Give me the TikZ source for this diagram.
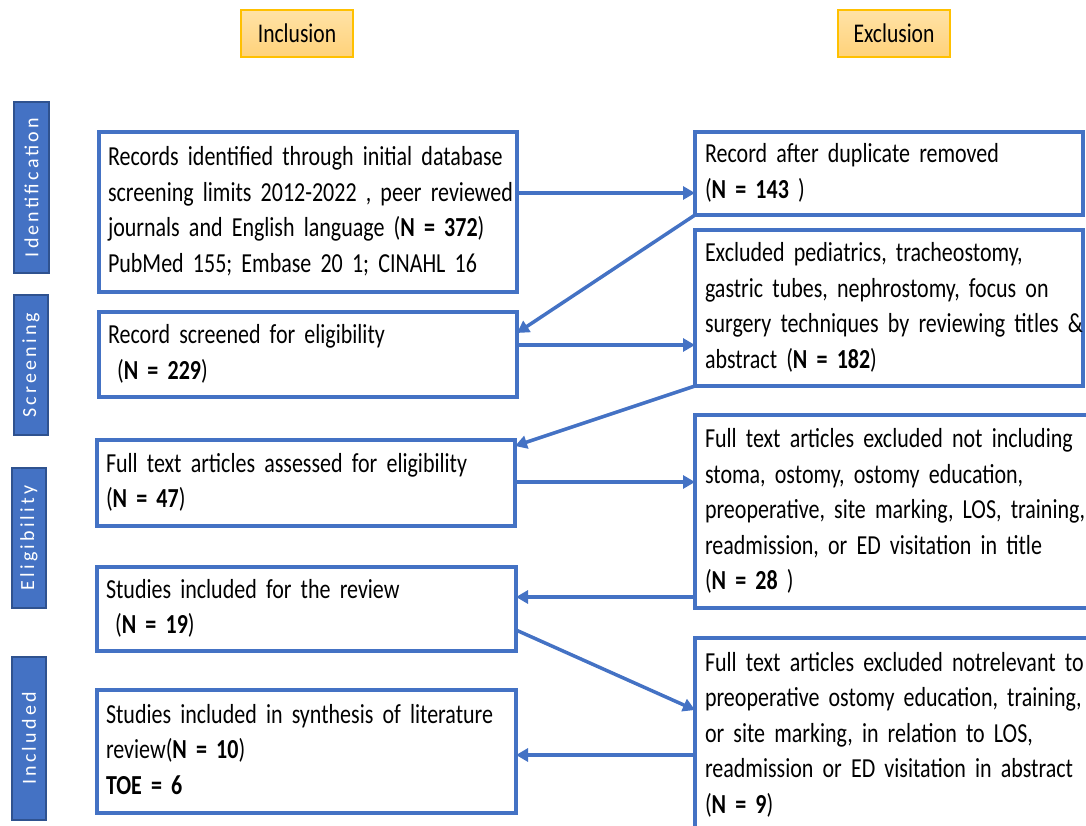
\documentclass[tikz,border=0pt]{standalone}
\usepackage{fontspec}
\setmainfont{Carlito}[FakeStretch=0.80]
\newfontfamily\sidefont{Carlito}[LetterSpace=16]
\newfontfamily\hdrfont{Carlito}[FakeStretch=0.8]
\usetikzlibrary{arrows.meta,calc}
\definecolor{boxblue}{HTML}{4472C4}
\definecolor{sidedark}{HTML}{2F528F}
\definecolor{hdrtop}{HTML}{FFE2A6}
\definecolor{hdrbot}{HTML}{FFD27A}
\definecolor{hdrline}{HTML}{FFC000}
\newcommand{\boxfont}{\fontsize{27.5}{35.5}\selectfont}
\tikzset{
  box/.style={draw=boxblue, line width=4pt, outer sep=0pt, inner xsep=9pt, inner ysep=0pt,
    anchor=north west, align=left, font=\boxfont},
  rbox/.style={box, inner xsep=10pt},
  sidebar/.style={fill=boxblue, draw=sidedark, line width=1.5pt, rotate=90, text=white,
    font=\sidefont\fontsize{20}{22}\selectfont, inner sep=0pt, outer sep=0pt},
  hdr/.style={top color=hdrtop, bottom color=hdrbot, draw=hdrline, line width=1.5pt,
    minimum width=112pt, minimum height=47pt, inner sep=0pt, font=\hdrfont\fontsize{27}{29}\selectfont},
  arr/.style={draw=boxblue, line width=3.5pt, -{Triangle[length=12pt,width=13pt]}}
}
\newcommand{\lines}[1]{\begin{tabular}{@{}l@{}}#1\end{tabular}}
\begin{document}
\begin{tikzpicture}[x=1pt,y=-1pt]
\useasboundingbox (0,0) rectangle (1086,826);
% headers
\node[hdr] (inc) at (297,33.5) {Inclusion};
\node[hdr] (exc) at (894,33.5) {Exclusion};
% side bars
\node[sidebar, minimum width=171pt, minimum height=35pt] (s1) at (31.5,187.5) {Identification};
\node[sidebar, minimum width=140pt, minimum height=34pt] (s2) at (31,365) {Screening};
\node[sidebar, minimum width=140pt, minimum height=34pt] (s3) at (29,538) {Eligibility};
\node[sidebar, minimum width=163pt, minimum height=34pt] (s4) at (29,738.5) {Included};
% left boxes
\node[box, minimum width=418pt, minimum height=160pt, text width=400pt] (B1) at (99,132)
  {\lines{Records identified through initial database\\ screening limits 2012-2022 , peer reviewed\\ journals and English language (\textbf{N = 372})\\ PubMed 155; Embase 20 1; CINAHL 16}};
\node[box, minimum width=418pt, minimum height=85pt, text width=400pt] (B2) at (99,312)
  {\lines{Record screened for eligibility\\ \ (\textbf{N = 229})}};
\node[box, minimum width=418pt, minimum height=86pt, text width=400pt] (B3) at (97,440)
  {\lines{Full text articles assessed for eligibility\\ (\textbf{N = 47})}};
\node[box, minimum width=419pt, minimum height=84pt, text width=401pt] (B4) at (97,567)
  {\lines{Studies included for the review\\ \ (\textbf{N = 19})}};
\node[box, minimum width=419pt, minimum height=123pt, text width=401pt] (B5) at (97,690)
  {\lines{Studies included in synthesis of literature\\ review(\textbf{N = 10})\\ \textbf{TOE = 6}}};
% right boxes
\node[rbox, minimum width=388pt, minimum height=83pt, text width=368pt] (R1) at (695,132)
  {\lines{Record after duplicate removed\\ (\textbf{N = 143} )}};
\node[rbox, minimum width=388pt, minimum height=156pt, text width=368pt] (R2) at (695,230)
  {\lines{Excluded pediatrics, tracheostomy,\\ gastric tubes, nephrostomy, focus on\\ surgery techniques by reviewing titles \&\\ abstract (\textbf{N = 182})}};
\node[rbox, minimum width=410pt, minimum height=193pt, text width=390pt] (R3) at (695,415)
  {\lines{Full text articles excluded not including\\ stoma, ostomy, ostomy education,\\ preoperative, site marking, LOS, training,\\ readmission, or ED visitation in title\\ (\textbf{N = 28} )}};
\node[rbox, minimum width=410pt, minimum height=194pt, text width=390pt] (R4) at (695,638)
  {\lines{Full text articles excluded notrelevant to\\ preoperative ostomy education, training,\\ or site marking, in relation to LOS,\\ readmission or ED visitation in abstract\\ (\textbf{N = 9})}};
% arrow levels
\coordinate (y193) at (0,193);
\coordinate (y333) at (0,333);
\coordinate (y345) at (0,345);
\coordinate (y446) at (0,446);
\coordinate (y482) at (0,482);
\coordinate (y597) at (0,597);
\coordinate (y630) at (0,630);
\coordinate (y710) at (0,710);
\coordinate (y755) at (0,755);
% arrows
\draw[arr] (B1.east |- y193) -- (R1.west |- y193);
\draw[arr] (R1.south west) -- (B2.east |- y333);
\draw[arr] (B2.east |- y345) -- (R2.west |- y345);
\draw[arr] (R2.south west) -- (B3.east |- y446);
\draw[arr] (B3.east |- y482) -- (R3.west |- y482);
\draw[arr] (R3.west |- y597) -- (B4.east |- y597);
\draw[arr] (B4.east |- y630) -- (R4.west |- y710);
\draw[arr] (R4.west |- y755) -- (B5.east |- y755);
\end{tikzpicture}
\end{document}
